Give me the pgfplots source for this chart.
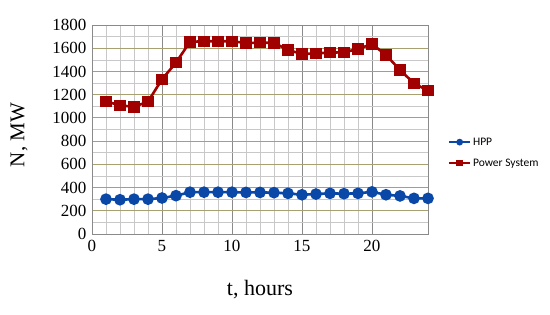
\documentclass[border=0pt]{standalone}
\usepackage{fontspec}
\setmainfont{Liberation Serif}
\newfontfamily\legfont{Carlito}
\usepackage{pgfplots}
\pgfplotsset{compat=1.18}
\definecolor{psred}{HTML}{A00000}
\definecolor{hppblue}{HTML}{0A48A8}
\definecolor{olivegrid}{HTML}{A8A070}
\definecolor{majgrid}{HTML}{8A8A8A}
\definecolor{mingrid}{HTML}{C8C8C8}

\begin{document}
\begin{tikzpicture}
\useasboundingbox (-92pt,-81pt) rectangle (458pt,234pt);

\begin{axis}[
  at={(0,0)}, anchor=south west,
  scale only axis,
  width=336pt, height=209pt,
  xmin=0, xmax=24, ymin=0, ymax=1800,
  xtick={0,5,10,15,20},
  ytick={0,200,...,1800},
  minor x tick num=4,
  minor y tick num=1,
  grid=both,
  major x grid style={majgrid, line width=0.6pt},
  major y grid style={olivegrid, line width=0.9pt},
  minor grid style={mingrid, line width=0.6pt},
  axis line style={majgrid, line width=0.6pt},
  tick style={draw=none},
  /pgf/number format/assume math mode=true,
  /pgf/number format/1000 sep={},
  tick label style={font=\fontsize{17}{18}\selectfont},
  xticklabel style={yshift=-3pt},
  yticklabel style={xshift=-2pt},
  xlabel={t, hours},
  xlabel style={font=\fontsize{22}{24}\selectfont, at={(axis description cs:0.5,0)}, anchor=center, yshift=-56pt},
  legend style={draw=none, fill=none, font=\legfont\fontsize{11.5}{13}\selectfont,
                at={(rel axis cs:1,0.5)}, anchor=north west, xshift=20pt, yshift=-6pt,
                row sep=8pt, inner sep=0pt},
  legend cell align=left,
  legend image code/.code={
    \draw[#1, line width=1.6pt] (0cm,0cm) -- (0.75cm,0cm);
    \path[#1, mark size=2pt] plot coordinates {(0.375cm,0cm)};
  },
  clip=false,
]

\addplot[hppblue, line width=2.6pt, mark=*, mark size=4.5pt]
  coordinates {
    (1,300) (2,295) (3,300) (4,300) (5,310) (6,330) (7,360) (8,360)
    (9,360) (10,360) (11,358) (12,358) (13,356) (14,350) (15,338) (16,344)
    (17,350) (18,347) (19,350) (20,363) (21,338) (22,328) (23,307) (24,307)};
\addlegendentry{HPP}

\addplot[psred, line width=2.6pt, mark=square*, mark size=4.4pt]
  coordinates {
    (1,1142) (2,1108) (3,1095) (4,1140) (5,1332) (6,1476) (7,1655) (8,1660)
    (9,1660) (10,1660) (11,1645) (12,1648) (13,1646) (14,1585) (15,1550) (16,1556)
    (17,1562) (18,1565) (19,1593) (20,1636) (21,1542) (22,1412) (23,1298) (24,1234)};
\addlegendentry{Power System}

\node[font=\fontsize{21}{23}\selectfont, rotate=90, anchor=center]
  at (axis description cs:-0.217,0.474) {N, MW};

\end{axis}
\end{tikzpicture}
\end{document}
